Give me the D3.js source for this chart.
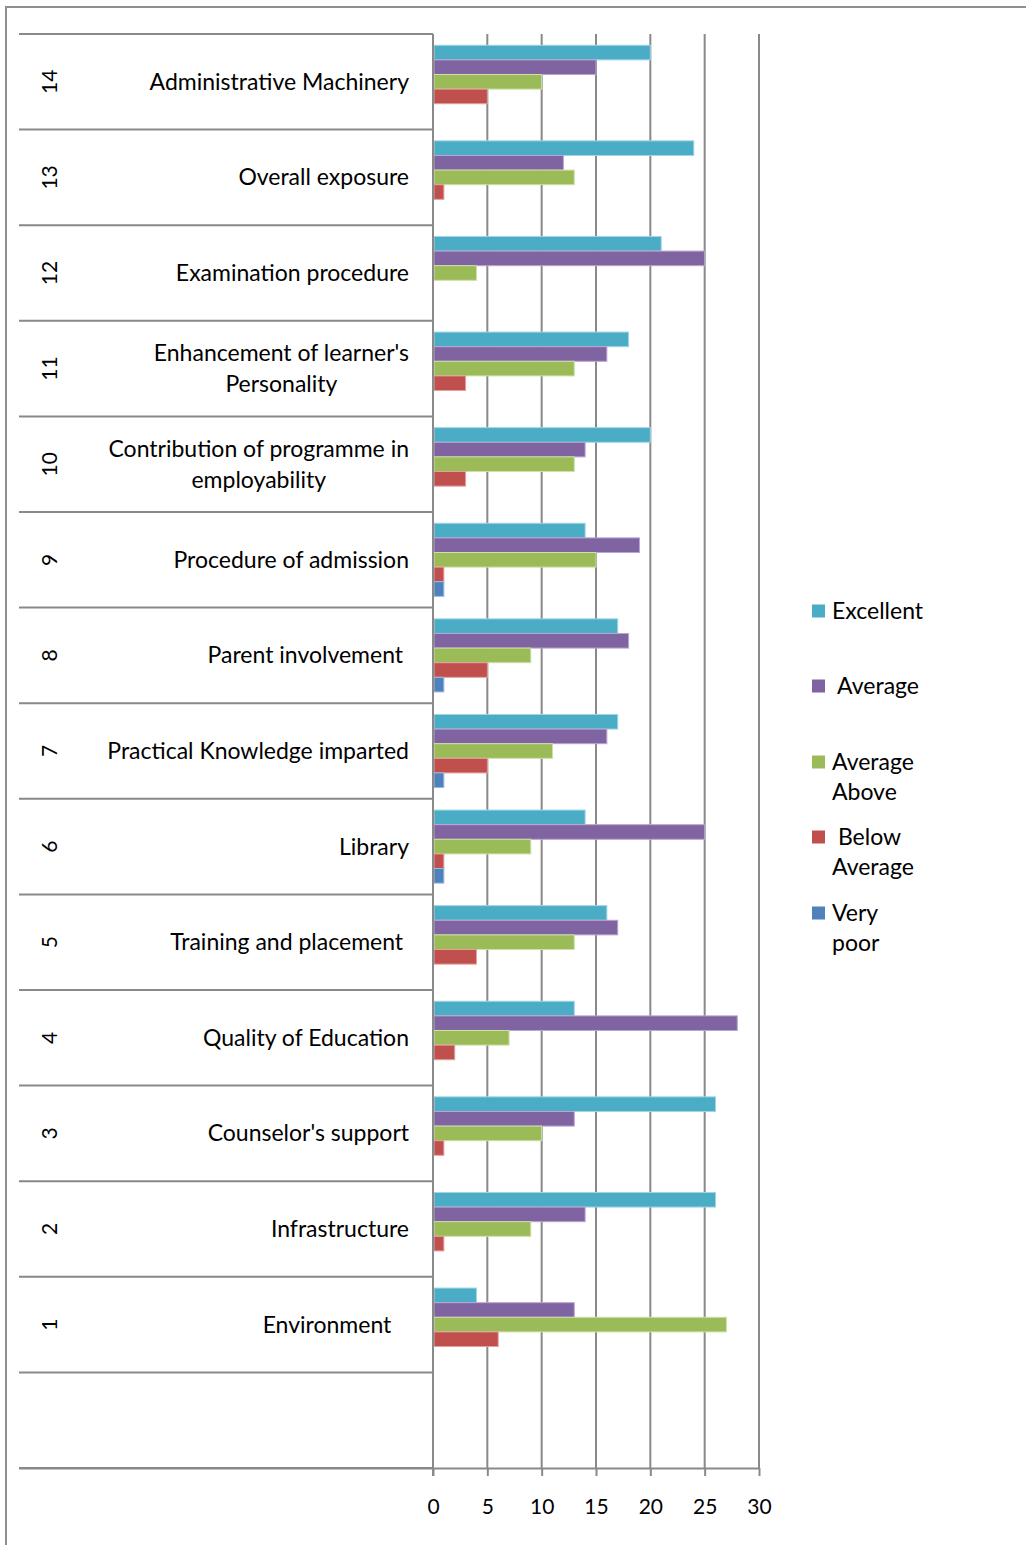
<!DOCTYPE html>
<html>
<head>
<meta charset="utf-8">
<script src="https://cdn.jsdelivr.net/npm/d3@7/dist/d3.min.js"></script>
<style>
  html, body { margin: 0; padding: 0; background: #fff; }
  svg text { font-family: Lato, "Open Sans", sans-serif; fill: #000; white-space: pre; }
</style>
</head>
<body>
<script>
// Survey items, numbered 1..14 (drawn bottom to top)
const itemNumbers = ["1","2","3","4","5","6","7","8","9","10","11","12","13","14"];
const itemNames = [
  "Environment   ",
  "Infrastructure",
  "Counselor's support",
  "Quality of Education",
  "Training and placement ",
  "Library",
  "Practical Knowledge imparted",
  "Parent involvement ",
  "Procedure of admission",
  "Contribution of programme in\nemployability",
  "Enhancement of learner's\nPersonality",
  "Examination procedure",
  "Overall exposure",
  "Administrative Machinery"
];

// Number of responses per rating
const excellent    = [4, 26, 26, 13, 16, 14, 17, 17, 14, 20, 18, 21, 24, 20];
const average      = [13, 14, 13, 28, 17, 25, 16, 18, 19, 14, 16, 25, 12, 15];
const aboveAverage = [27, 9, 10, 7, 13, 9, 11, 9, 15, 13, 13, 4, 13, 10];
const belowAverage = [6, 1, 1, 2, 4, 1, 5, 5, 1, 3, 3, 0, 1, 5];
const veryPoor     = [0, 0, 0, 0, 0, 1, 1, 1, 1, 0, 0, 0, 0, 0];

const seriesKeys   = ["excellent", "average", "aboveAverage", "belowAverage", "veryPoor"];
const seriesLabels = ["Excellent", " Average", "Average\nAbove", " Below\nAverage", "Very\npoor"];
const seriesColors = ["#4BACC6", "#8064A2", "#9BBB59", "#C0504D", "#4F81BD"];
const seriesStroke = ["#9fd6e4", "#b9a6cf", "#cde0a8", "#e4a09e", "#9dbbe0"];
const seriesValues = [excellent, average, aboveAverage, belowAverage, veryPoor];

const xTickValues = [0, 5, 10, 15, 20, 25, 30];

const W = 1026, H = 1545;
const textSize = 23;
const svg = d3.select("body").append("svg")
  .attr("width", W).attr("height", H);

// outer frame
svg.append("path")
  .attr("d", `M6,${H} V7 H${W}`)
  .attr("fill", "none").attr("stroke", "#8f8f8f").attr("stroke-width", 2);

const plotLeft = 433, plotRight = 759, plotTop = 34, plotBottom = 1468;
const labelLeft = 19;

const x = d3.scaleLinear().domain([0, 30]).range([plotLeft, plotRight]);

// one slot per item, top to bottom, plus an empty slot beneath item 1
const slotDomain = itemNumbers.slice().reverse().concat(["blank"]);
const y = d3.scaleBand().domain(slotDomain).range([plotTop, plotBottom]).padding(0);

const ySeries = d3.scaleBand().domain(seriesKeys)
  .range([0, y.bandwidth()]).paddingInner(0).paddingOuter(0.77);

const gridColor = "#898989";

// vertical gridlines
svg.append("g").selectAll("line")
  .data(xTickValues.filter(v => v > 0))
  .join("line")
  .attr("x1", d => x(d)).attr("x2", d => x(d))
  .attr("y1", plotTop).attr("y2", plotBottom)
  .attr("stroke", gridColor).attr("stroke-width", 2);

// bars
const rows = itemNumbers.map((n, i) => ({
  n, name: itemNames[i],
  vals: seriesKeys.map((k, s) => ({ key: k, s, v: seriesValues[s][i] }))
}));

const groups = svg.append("g").selectAll("g")
  .data(rows).join("g")
  .attr("transform", d => `translate(0,${y(d.n)})`);

groups.selectAll("rect")
  .data(d => d.vals.filter(e => e.v > 0))
  .join("rect")
  .attr("x", x(0) + 1)
  .attr("y", e => ySeries(e.key))
  .attr("width", e => x(e.v) - x(0) - 1)
  .attr("height", ySeries.bandwidth())
  .attr("fill", e => seriesColors[e.s])
  .attr("stroke", e => seriesStroke[e.s])
  .attr("stroke-width", 1);

// category separators on the left
svg.append("g").selectAll("line")
  .data(d3.range(slotDomain.length + 1))
  .join("line")
  .attr("x1", labelLeft).attr("x2", plotLeft)
  .attr("y1", i => plotTop + i * y.step()).attr("y2", i => plotTop + i * y.step())
  .attr("stroke", gridColor).attr("stroke-width", 2);

// value axis along the bottom
const xAxis = d3.axisBottom(x).tickValues(xTickValues).tickSize(8).tickPadding(23);
const gx = svg.append("g").attr("transform", `translate(0,${plotBottom})`).call(xAxis);
gx.select(".domain").attr("stroke", gridColor).attr("stroke-width", 2)
  .attr("d", `M${labelLeft},0.5H${plotRight}`);
gx.selectAll(".tick line").attr("stroke", gridColor).attr("stroke-width", 2);
gx.selectAll(".tick text").attr("font-size", 21).attr("font-family", "Lato, sans-serif").attr("fill", "#000");

// category axis line
svg.append("line")
  .attr("x1", plotLeft).attr("x2", plotLeft)
  .attr("y1", plotTop).attr("y2", plotBottom + 8)
  .attr("stroke", gridColor).attr("stroke-width", 2);

// item numbers, rotated
svg.append("g").selectAll("text")
  .data(rows).join("text")
  .attr("transform", d => `translate(50,${y(d.n) + y.bandwidth() / 2}) rotate(-90)`)
  .attr("text-anchor", "middle")
  .attr("dy", "0.35em")
  .attr("font-size", 21)
  .text(d => d.n);

// item names: right-aligned block, lines centred within it
const nameRight = 409, lineH = 31;
rows.forEach(d => {
  const lines = d.name.split("\n");
  const cy = y(d.n) + y.bandwidth() / 2;
  const t = svg.append("text").attr("font-size", textSize);
  if (lines.length === 1) {
    t.attr("x", nameRight).attr("y", cy).attr("dy", "0.35em")
      .attr("text-anchor", "end").text(lines[0]);
  } else {
    t.attr("text-anchor", "middle");
    const spans = lines.map((ln, i) => t.append("tspan")
      .attr("y", cy + (i - (lines.length - 1) / 2) * lineH)
      .attr("dy", "0.35em").text(ln));
    const wMax = d3.max(spans, s => s.node().getComputedTextLength());
    spans.forEach(s => s.attr("x", nameRight - wMax / 2));
  }
});

// legend
const legendY = [611, 686, 762, 837, 913];
const lg = svg.append("g");
seriesLabels.forEach((lab, s) => {
  lg.append("rect")
    .attr("x", 812).attr("y", legendY[s] - 6.5)
    .attr("width", 13).attr("height", 13)
    .attr("fill", seriesColors[s]);
  const t = lg.append("text").attr("font-size", textSize);
  lab.split("\n").forEach((ln, i) => {
    t.append("tspan").attr("x", 832).attr("y", legendY[s] + i * 30)
      .attr("dy", "0.35em").text(ln);
  });
});
</script>
</body>
</html>
